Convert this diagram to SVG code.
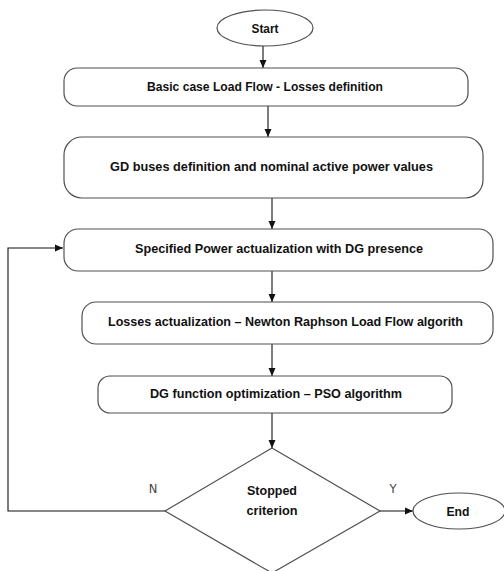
<svg xmlns="http://www.w3.org/2000/svg" width="504" height="571" viewBox="0 0 504 571">
<style>
.shape{fill:#ffffff;stroke:#505050;stroke-width:1.2}
.lbl{font-family:"Liberation Sans",Arial,sans-serif;font-weight:bold;font-size:13.5px;fill:#111111;text-anchor:middle}
.yn{font-family:"DejaVu Sans","Liberation Sans",sans-serif;font-size:11.5px;fill:#444444;text-anchor:middle}
.conn{fill:none;stroke:#111111;stroke-width:1.1}
</style>
<defs>
<marker id="arr" viewBox="0 0 8 8" refX="8" refY="4" markerWidth="8" markerHeight="8" markerUnits="userSpaceOnUse" orient="auto">
<path d="M0,0.5 L8,4 L0,7.5 Z" fill="#111111"/>
</marker>
</defs>
<rect width="504" height="571" fill="#ffffff"/>
<g id="connectors">
<line class="conn" x1="263" y1="46" x2="263" y2="68" marker-end="url(#arr)"/>
<line class="conn" x1="268" y1="106" x2="268" y2="137" marker-end="url(#arr)"/>
<line class="conn" x1="272" y1="198" x2="272" y2="229" marker-end="url(#arr)"/>
<line class="conn" x1="272" y1="271" x2="272" y2="302" marker-end="url(#arr)"/>
<line class="conn" x1="272" y1="344" x2="272" y2="376" marker-end="url(#arr)"/>
<line class="conn" x1="272" y1="413" x2="272" y2="448" stroke-width="1.6" marker-end="url(#arr)"/>
<line class="conn" x1="380" y1="511" x2="413" y2="511" marker-end="url(#arr)"/>
<polyline class="conn" points="165,511 8,511 8,248 63,248" marker-end="url(#arr)"/>
</g>
<g id="start">
<ellipse class="shape" cx="265" cy="28" rx="48" ry="18"/>
<text class="lbl" x="265" y="32.5" textLength="27" lengthAdjust="spacingAndGlyphs">Start</text>
</g>
<g id="box1">
<rect class="shape" x="64" y="68" width="404" height="38" rx="13"/>
<text class="lbl" x="265" y="91" textLength="236" lengthAdjust="spacingAndGlyphs">Basic case Load Flow - Losses definition</text>
</g>
<g id="box2">
<rect class="shape" x="64" y="137" width="419" height="61" rx="18"/>
<text class="lbl" x="271.5" y="171" textLength="323" lengthAdjust="spacingAndGlyphs">GD buses definition and nominal active power values</text>
</g>
<g id="box3">
<rect class="shape" x="64" y="229" width="429" height="42" rx="14"/>
<text class="lbl" x="279" y="253" textLength="288" lengthAdjust="spacingAndGlyphs">Specified Power actualization with DG presence</text>
</g>
<g id="box4">
<rect class="shape" x="82" y="302" width="411" height="42" rx="14"/>
<text class="lbl" x="285.5" y="326" textLength="355" lengthAdjust="spacingAndGlyphs">Losses actualization – Newton Raphson Load Flow algorith</text>
</g>
<g id="box5">
<rect class="shape" x="98" y="376" width="354" height="37" rx="12"/>
<text class="lbl" x="276" y="398" textLength="252" lengthAdjust="spacingAndGlyphs">DG function optimization – PSO algorithm</text>
</g>
<g id="decision">
<polygon class="shape" points="272,448 380,511 272,573 165,511"/>
<text class="lbl" x="272" y="495" textLength="50" lengthAdjust="spacingAndGlyphs">Stopped</text>
<text class="lbl" x="272" y="515" textLength="51" lengthAdjust="spacingAndGlyphs">criterion</text>
<text class="yn" x="153" y="493">N</text>
<text class="yn" x="393" y="493">Y</text>
</g>
<g id="end">
<ellipse class="shape" cx="459" cy="511" rx="46" ry="18"/>
<text class="lbl" x="458" y="515.5" textLength="23" lengthAdjust="spacingAndGlyphs">End</text>
</g>
</svg>
